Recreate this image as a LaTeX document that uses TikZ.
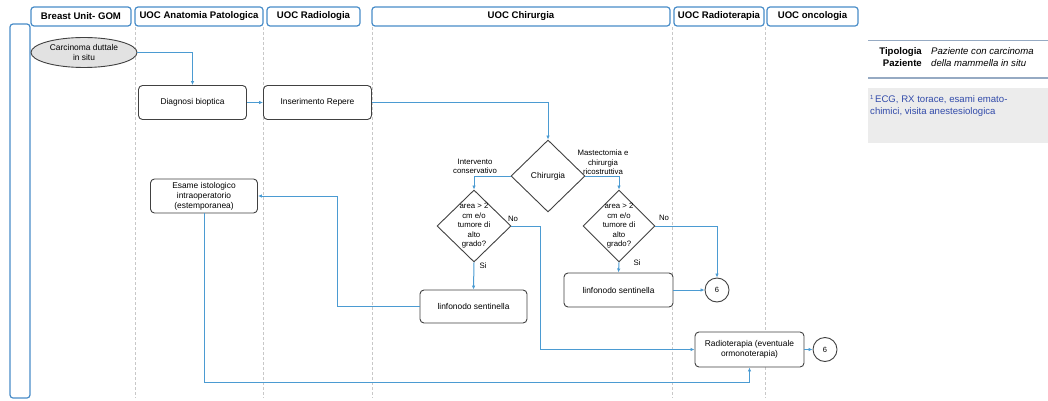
\documentclass[tikz,border=0pt]{standalone}
\usepackage{fontspec}
\setmainfont{Liberation Sans}
\usetikzlibrary{shapes.geometric,arrows.meta}
\definecolor{conn}{RGB}{75,155,210}
\definecolor{hdrblue}{RGB}{72,140,200}
\definecolor{boxgray}{RGB}{65,65,65}
\definecolor{lanegray}{RGB}{200,200,200}
\definecolor{notegray}{RGB}{236,236,236}
\definecolor{noteblue}{RGB}{50,75,170}
\definecolor{ellgray}{RGB}{226,226,226}
\definecolor{rulecol}{RGB}{150,170,195}
\begin{document}
\begin{tikzpicture}[x=1pt,y=-1pt,
  hdr/.style={draw=hdrblue, line width=1.2pt, rounded corners=3pt, fill=white,
    minimum height=19pt, inner sep=0pt, font=\fontsize{9.6}{11}\selectfont\bfseries},
  stepbox/.style={draw=boxgray, line width=0.9pt, rounded corners=4pt, fill=white,
    align=center, inner sep=1pt, font=\fontsize{8.4}{10}\selectfont},
  dia/.style={diamond, draw=boxgray, line width=0.9pt, fill=white, inner sep=0pt},
  diatext/.style={align=center, inner sep=0pt, font=\fontsize{7.8}{9.5}\selectfont},
  lbl/.style={align=center, inner sep=0pt, font=\fontsize{7.8}{9.5}\selectfont},
  endcirc/.style={circle, draw=boxgray, line width=0.9pt, fill=white, minimum size=24pt,
    inner sep=0pt, font=\fontsize{7.5}{9}\selectfont},
  lane/.style={draw=lanegray, line width=0.8pt, dash pattern=on 3pt off 2pt},
  conn/.style={draw=conn, line width=1pt, -{Latex[length=4pt,width=3.5pt]}},
]
\useasboundingbox (0,0) rectangle (1048,401);

% swimlane headers
\node[hdr, minimum width=100pt] (h1) at (81,16.5)  {Breast Unit- GOM};
\node[hdr, minimum width=128pt] (h2) at (199,16.5) {UOC Anatomia Patologica};
\node[hdr, minimum width=93pt]  (h3) at (313.5,16.5) {UOC Radiologia};
\node[hdr, minimum width=298pt] (h4) at (521,16.5) {UOC Chirurgia};
\node[hdr, minimum width=90pt]  (h5) at (719,16.5) {UOC Radioterapia};
\node[hdr, minimum width=91pt]  (h6) at (812.5,16.5) {UOC oncologia};

% lane separators
\draw[lane] (135,27) -- (135,398);
\draw[lane] (263,27) -- (263,398);
\draw[lane] (372,27) -- (372,398);
\draw[lane] (672,27) -- (672,398);
\draw[lane] (765,27) -- (765,398);

% vertical bar on the left
\node[draw=hdrblue, line width=1.2pt, rounded corners=3pt, minimum width=20pt,
  minimum height=374pt, inner sep=0pt] (bar) at (20,211) {};

% process steps
\node[ellipse, draw=boxgray, line width=0.9pt, fill=ellgray, minimum width=106pt,
  minimum height=30pt, inner sep=0pt, align=center, font=\fontsize{8.4}{10}\selectfont]
  (start) at (84,52.5) {Carcinoma duttale\\in situ};
\node[stepbox, minimum width=108pt, minimum height=34pt] (diag) at (192.5,102.5) {Diagnosi bioptica};
\node[stepbox, minimum width=108pt, minimum height=34pt] (rep) at (317.5,102.5) {Inserimento Repere};
\node[dia, minimum width=74pt, minimum height=72pt] (chir) at (548,176) {};
\node[diatext, font=\fontsize{8.4}{10}\selectfont] at (chir) {Chirurgia};

\node[dia, minimum width=74pt, minimum height=72pt] (d1) at (474,226) {};
\node[diatext] at (d1) {area > 2\\cm e/o\\tumore di\\alto\\grado?};
\node[dia, minimum width=72pt, minimum height=72pt] (d2) at (619,226) {};
\node[diatext] at (d2) {area > 2\\cm e/o\\tumore di\\alto\\grado?};

\node[stepbox, minimum width=107pt, minimum height=34pt] (esame) at (204,196)
  {Esame istologico\\intraoperatorio\\(estemporanea)};
\node[stepbox, minimum width=107pt, minimum height=33pt] (lin1) at (473.5,306.5) {linfonodo sentinella};
\node[stepbox, minimum width=109pt, minimum height=34pt] (lin2) at (618.5,290) {linfonodo sentinella};
\node[stepbox, minimum width=109pt, minimum height=35pt] (radio) at (749.5,349.5)
  {Radioterapia (eventuale\\ormonoterapia)};
\node[endcirc] (e1) at (717,290) {6};
\node[endcirc] (e2) at (825,349.5) {6};

% branch labels
\node[lbl] at (475,166.5) {Intervento\\conservativo};
\node[lbl] at (603,162.5) {Mastectomia e\\chirurgia\\ricostruttiva};
\node[lbl] at (513,219) {No};
\node[lbl] at (483,266) {Si};
\node[lbl] at (664,218) {No};
\node[lbl] at (637,263) {Si};

% connectors
\draw[conn] (start.east) -| (diag.north);
\draw[conn] (diag.east) -- (rep.west);
\draw[conn] (rep.east) -| (chir.north);
\draw[conn] (chir.west) -| (d1.north);
\draw[conn] (chir.east) -| (d2.north);
\draw[conn] (d1.south) -- (lin1.north);
\draw[conn] (d1.east) -- ++(29,0) |- (radio.west);
\draw[conn] (d2.south) -- (lin2.north);
\draw[conn] (d2.east) -| (e1.north);
\draw[conn] (lin2.east) -- (e1.west);
\draw[conn] (lin1.west) -- ++(-82,0) |- (esame.east);
\draw[conn] (esame.south) -- ++(0,169.5) -| (radio.south);
\draw[conn] (radio.east) -- (e2.west);

% patient type table
\draw[draw=rulecol, line width=1pt] (868,41) -- (1048,41);
\draw[draw=rulecol, line width=1.8pt] (868,78) -- (1048,78);
\node[anchor=east, align=right, inner sep=0pt, font=\fontsize{9.6}{12}\selectfont\bfseries]
  (tip) at (922,57) {Tipologia\\Paziente};
\node[anchor=west, align=left, inner sep=0pt, font=\fontsize{9.6}{12}\selectfont\itshape]
  (paz) at (931,57) {Paziente con carcinoma\\della mammella in situ};

% footnote box
\fill[notegray] (868,88) rectangle (1048,143);
\node[anchor=north west, align=left, inner sep=0pt, text=noteblue,
  font=\fontsize{9.6}{12}\selectfont] (note) at (870,95)
  {{\fontsize{6}{6}\selectfont\raisebox{3pt}{1}}\,ECG, RX torace, esami emato-\\chimici, visita anestesiologica};
\end{tikzpicture}
\end{document}
